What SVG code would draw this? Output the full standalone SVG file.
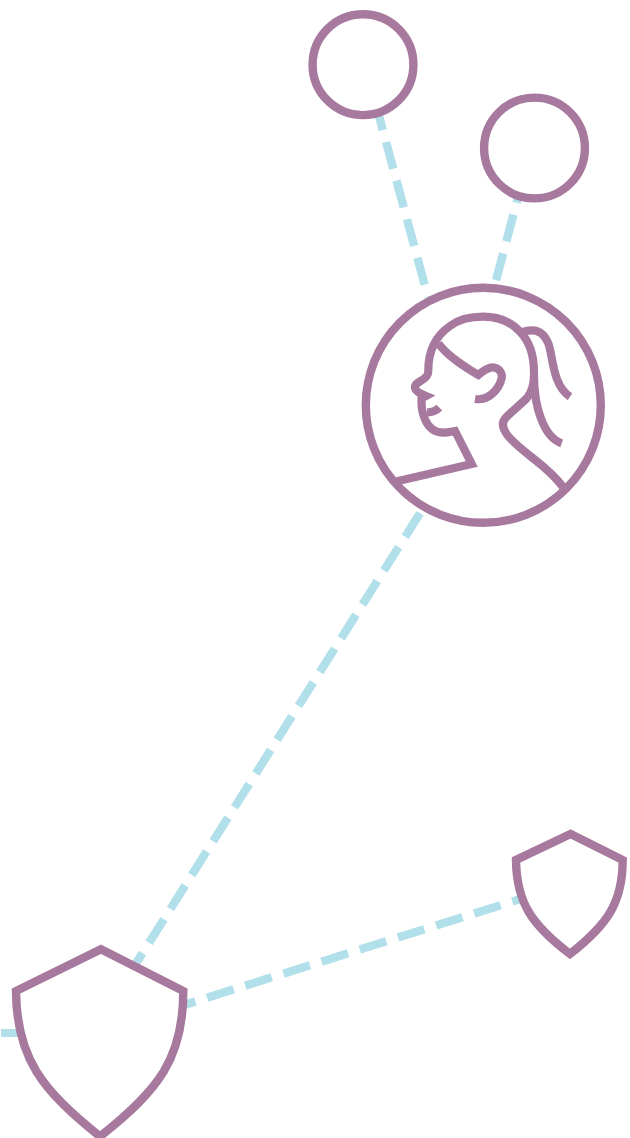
<svg xmlns="http://www.w3.org/2000/svg" width="630" height="1138" viewBox="0 0 630 1138">
<style>
.link{fill:none;stroke:#b1dfea;stroke-width:8.4;stroke-dasharray:27.7 12.3}
.shape{fill:#fff;stroke:#a8799f;stroke-width:8.4;stroke-miterlimit:10}
.line{fill:none;stroke:#a8799f;stroke-width:8.2;stroke-miterlimit:10}
</style>
<rect width="630" height="1138" fill="#fff"/>
<g id="connectors">
<path class="link" d="M375.6 103.4L428 297"/>
<path class="link" d="M523.7 176L490 303"/>
<path class="link" d="M420 513.3L130 973"/>
<path class="link" d="M169 1009.7L530 896"/>
<path d="M1 1033H24" fill="none" stroke="#b1dfea" stroke-width="8"/>
</g>
<g id="node-top-left"><circle class="shape" cx="363" cy="64.7" r="50.4"/></g>
<g id="node-top-right"><circle class="shape" cx="534.5" cy="148" r="50.4"/></g>
<g id="node-person">
<circle class="shape" cx="483.3" cy="405.3" r="117.5"/>
<path class="line" d="M395 481.7L471.7 464L455 431C452 431.5 448 432.7 443.3 432.7C426 432.7 421 413 421.5 398.5L426 396C421 394 415.5 391 415 388C414.5 386 416 384 419 382C422.5 380 428.3 377 428.3 371.7C428 350 437 335 450 326C458 320 470 316.7 483.3 316.7C498 316.7 511 322 520 331.7C529 341 534 356 534 372C534.5 385 532 392 527 398C520 405 510 413 505.5 418C501 423 503 429 507 434.5C512 442 524 451 534 459C543 466 554 475 563.3 487.3"/>
<path class="line" d="M438.3 343.3C447 356 465 367 478.3 375C484 370 490 367 494 367.5C500 368.5 502.5 374 501.7 378C499 390 488 401 475 399"/>
<path class="line" d="M439.3 407.7C436 411 432 412.5 427 412.3"/>
<path class="line" d="M523.3 331.7C532 329.5 542 328 548.3 343.3C553 355 552 385 570 396.7"/>
<path class="line" d="M534 376C534 405 543 437 561.7 443.3"/>
</g>
<g id="node-shield-large"><path class="shape" d="M101 949.3L183.3 991C183.3 1058 159 1090 100 1136.5C42 1090 16.5 1058 16 991Z"/></g>
<g id="node-shield-small"><path class="shape" d="M570.7 834L622.7 860C622.7 903 607 925 570 954C532 925 516.5 903 516 860Z"/></g>
</svg>
